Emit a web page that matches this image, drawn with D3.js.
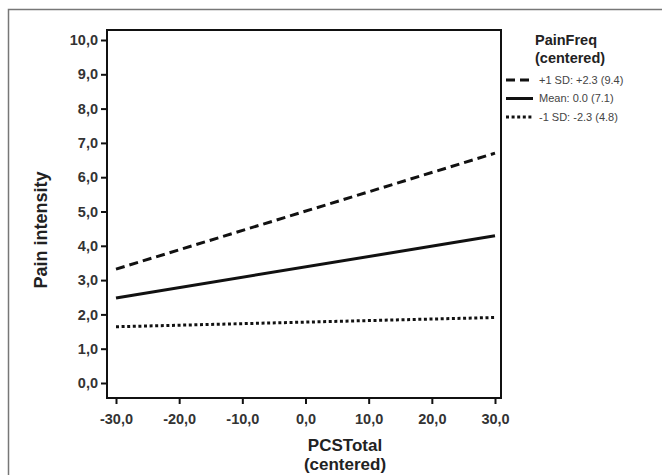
<!DOCTYPE html>
<html>
<head>
<meta charset="utf-8">
<script src="https://cdn.jsdelivr.net/npm/d3@7"></script>
<style>
  body { margin: 0; background: #fff; }
  svg { display: block; font-family: "Liberation Sans", Arial, sans-serif; }
</style>
</head>
<body>
<svg id="chart" width="662" height="475"></svg>
<script>
// values
const xTicks = [-30, -20, -10, 0, 10, 20, 30];
const yTicks = [0, 1, 2, 3, 4, 5, 6, 7, 8, 9, 10];
const seriesNames = ["+1 SD: +2.3 (9.4)", "Mean: 0.0 (7.1)", "-1 SD: -2.3 (4.8)"];
const seriesDash = ["9,5", null, "3,2.6"];
const xEnds = [-30, 30];
const plusSD = [3.32, 6.70];
const meanVals = [2.48, 4.29];
const minusSD = [1.64, 1.91];

const series = [plusSD, meanVals, minusSD].map((v, i) => ({
    name: seriesNames[i],
    dash: seriesDash[i],
    points: xEnds.map((x, j) => [x, v[j]])
}));

const svg = d3.select("#chart");
const fmt = d => d3.format(".1f")(d).replace(".", ",").replace("\u2212", "-");

// outer frame (top + left only visible)
svg.append("path")
    .attr("d", "M8.5,475 L8.5,9.5 L662,9.5")
    .attr("fill", "none")
    .attr("stroke", "#777")
    .attr("stroke-width", 1.5);

const box = { left: 107, top: 30, right: 501, bottom: 398 };

const x = d3.scaleLinear().domain([-30, 30]).range([116, 495]);
const y = d3.scaleLinear().domain([0, 10]).range([383, 40]);

// plot frame
svg.append("rect")
    .attr("x", box.left)
    .attr("y", box.top)
    .attr("width", box.right - box.left)
    .attr("height", box.bottom - box.top)
    .attr("fill", "none")
    .attr("stroke", "#111")
    .attr("stroke-width", 2);

const xAxis = svg.append("g")
    .attr("transform", `translate(0,${box.bottom})`)
    .call(d3.axisBottom(x).tickValues(xTicks).tickFormat(fmt).tickSize(6).tickPadding(10));

const yAxis = svg.append("g")
    .attr("transform", `translate(${box.left},0)`)
    .call(d3.axisLeft(y).tickValues(yTicks).tickFormat(fmt).tickSize(6).tickPadding(3));

[xAxis, yAxis].forEach(g => {
    g.select(".domain").remove();
    g.selectAll(".tick line").attr("stroke", "#111").attr("stroke-width", 2);
    g.selectAll(".tick text")
        .attr("fill", "#333")
        .attr("font-size", 14.5)
        .attr("font-weight", "bold")
        .attr("font-family", "'Liberation Sans', Arial, sans-serif");
});

const line = d3.line()
    .x(d => x(d[0]))
    .y(d => y(d[1]));

svg.append("g")
    .selectAll("path")
    .data(series)
    .join("path")
    .attr("d", d => line(d.points))
    .attr("fill", "none")
    .attr("stroke", "#111")
    .attr("stroke-width", 3)
    .attr("stroke-dasharray", d => d.dash);

// axis titles
svg.append("text")
    .attr("transform", "translate(47,230) rotate(-90)")
    .attr("text-anchor", "middle")
    .attr("font-size", 18)
    .attr("font-weight", "bold")
    .attr("fill", "#222")
    .text("Pain intensity");

svg.append("text")
    .attr("x", 345)
    .attr("y", 451)
    .attr("text-anchor", "middle")
    .attr("font-size", 17)
    .attr("font-weight", "bold")
    .attr("fill", "#222")
    .selectAll("tspan")
    .data(["PCSTotal", "(centered)"])
    .join("tspan")
    .attr("x", 345)
    .attr("dy", (d, i) => i ? 19 : 0)
    .text(d => d);

// legend
const legend = svg.append("g");
legend.append("text")
    .attr("x", 535)
    .attr("y", 45)
    .attr("font-size", 14.5)
    .attr("font-weight", "bold")
    .attr("fill", "#222")
    .selectAll("tspan")
    .data(["PainFreq", "(centered)"])
    .join("tspan")
    .attr("x", 535)
    .attr("dy", (d, i) => i ? 18 : 0)
    .text(d => d);

const item = legend.selectAll("g.item")
    .data(series)
    .join("g")
    .attr("class", "item")
    .attr("transform", (d, i) => `translate(506,${80 + i * 18.5})`);

item.append("line")
    .attr("x1", 0)
    .attr("x2", 27)
    .attr("stroke", "#111")
    .attr("stroke-width", 3)
    .attr("stroke-dasharray", d => d.dash);

item.append("text")
    .attr("x", 33)
    .attr("dy", "0.35em")
    .attr("font-size", 11)
    .attr("fill", "#444")
    .text(d => d.name);
</script>
</body>
</html>
